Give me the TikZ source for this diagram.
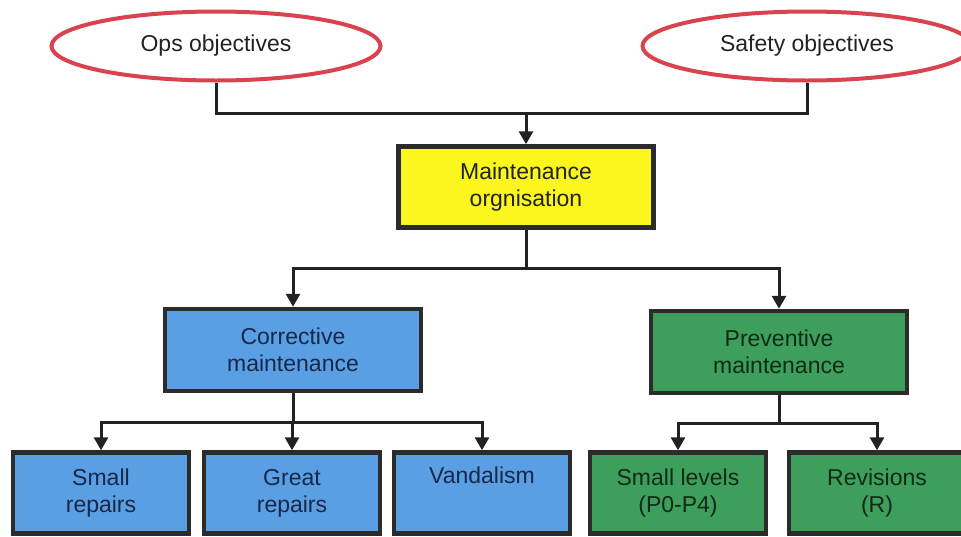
\documentclass[tikz,border=0pt]{standalone}
\usepackage{fontspec}
\setmainfont{Liberation Sans}
\usepackage{tikz}
\usetikzlibrary{arrows.meta,shapes.geometric}
\definecolor{Ink}{HTML}{222222}
\definecolor{Frame}{HTML}{2B2B2B}
\definecolor{GoalRed}{HTML}{D8434F}
\definecolor{OrgYellow}{HTML}{FBF71E}
\definecolor{CorrBlue}{HTML}{5A9EE4}
\definecolor{PrevGreen}{HTML}{3E9E5B}
\definecolor{BlueInk}{HTML}{172848}
\definecolor{GreenInk}{HTML}{102A18}

\begin{document}
\begin{tikzpicture}[x=1pt,y=-1pt,>={Triangle[width=14pt,length=13pt]},
  goal/.style={ellipse,draw=GoalRed,line width=4pt,fill=white,text=Ink,
    minimum width=329pt,minimum height=69pt,inner sep=0pt,
    font=\fontsize{23}{27}\selectfont},
  boxbase/.style={rectangle,draw=Frame,line width=4.5pt,inner sep=0pt,
    align=center,font=\fontsize{23}{27}\selectfont},
  orgbox/.style={boxbase,fill=OrgYellow,text=Ink,minimum width=255pt,minimum height=81pt},
  corrbox/.style={boxbase,fill=CorrBlue,text=BlueInk},
  prevbox/.style={boxbase,fill=PrevGreen,text=GreenInk},
  midbox/.style={minimum width=256pt,minimum height=82pt},
  leafbox/.style={minimum width=176pt,minimum height=81pt},
  link/.style={Ink,line width=3pt}]
  \useasboundingbox[fill=white] (0,0) rectangle (961,536);
  % objectives
  \node[goal] (ops) at (216,46) {Ops objectives};
  \node[goal] (safety) at (807,46) {Safety objectives};
  \node[orgbox] (org) at (526,187) {Maintenance\\orgnisation};
  % two kinds of maintenance
  \node[corrbox,midbox] (corr) at (293,350) {Corrective\\maintenance};
  \node[prevbox,midbox] (prev) at (779,352) {Preventive\\maintenance};
  % leaves
  \node[corrbox,leafbox] (small) at (101,493) {Small\\repairs};
  \node[corrbox,leafbox] (great) at (292,493) {Great\\repairs};
  \node[corrbox,leafbox] (vand) at (482,493) {Vandalism\\\strut};
  \node[prevbox,leafbox] (levels) at (678,493) {Small levels\\(P0-P4)};
  \node[prevbox,leafbox] (rev) at (877,493) {Revisions\\(R)};
  \coordinate (join) at (526,113);
  \coordinate (split) at (526,268);
  \coordinate (corrsplit) at (293,422);
  \coordinate (prevsplit) at (779,423);
  \draw[link] (ops) |- (join);
  \draw[link] (safety) |- (join);
  \draw[link,->] (join) -- (org);
  \draw[link] (org) -- (split);
  \draw[link,->] (split) -| (corr);
  \draw[link,->] (split) -| (prev);
  \draw[link] (corr) -- (corrsplit);
  \foreach \leaf in {small,great,vand}
    \draw[link,->] (corrsplit) -| (\leaf);
  \draw[link] (prev) -- (prevsplit);
  \foreach \leaf in {levels,rev}
    \draw[link,->] (prevsplit) -| (\leaf);
\end{tikzpicture}
\end{document}
